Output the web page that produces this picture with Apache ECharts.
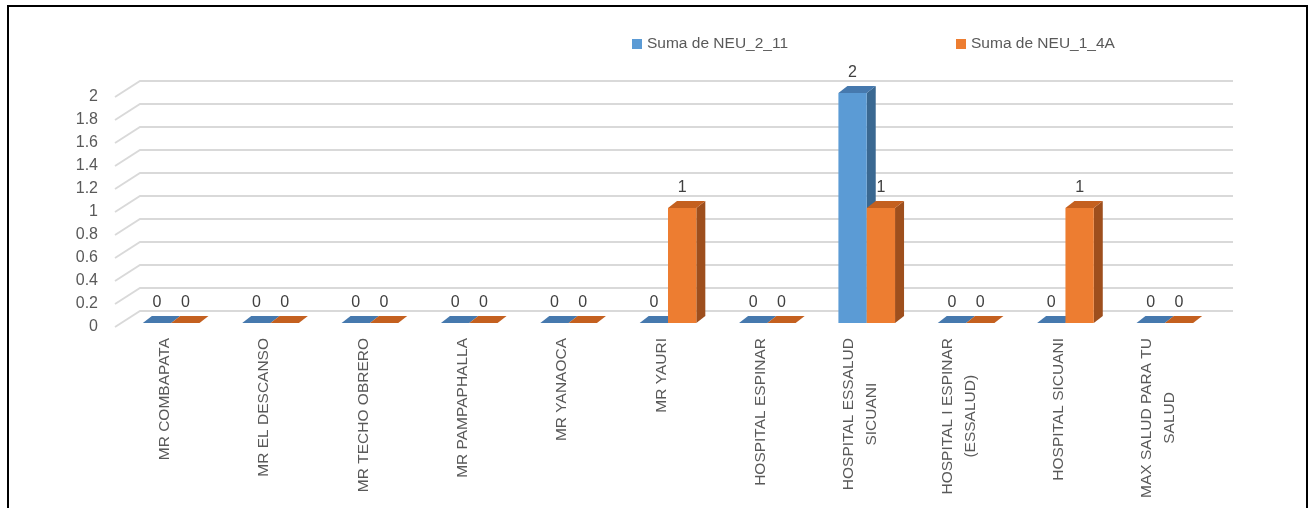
<!DOCTYPE html>
<html>
<head>
<meta charset="utf-8">
<script src="https://cdn.jsdelivr.net/npm/echarts@6/dist/echarts.min.js"></script>
<style>
  html, body { margin: 0; padding: 0; background: #fff; }
  #chart { width: 1314px; height: 508px; }
</style>
</head>
<body>
<div id="chart"></div>
<script>
  // categories and values
  const categories = [
    'MR COMBAPATA', 'MR EL DESCANSO', 'MR TECHO OBRERO', 'MR PAMPAPHALLA',
    'MR YANAOCA', 'MR YAURI', 'HOSPITAL ESPINAR', 'HOSPITAL ESSALUD\nSICUANI',
    'HOSPITAL I ESPINAR\n(ESSALUD)', 'HOSPITAL SICUANI', 'MAX SALUD PARA TU\nSALUD'
  ];
  const neu211 = [0, 0, 0, 0, 0, 0, 0, 2, 0, 0, 0];
  const neu14a = [0, 0, 0, 0, 0, 1, 0, 1, 0, 1, 0];
  const yTicks = [0, 0.2, 0.4, 0.6, 0.8, 1, 1.2, 1.4, 1.6, 1.8, 2];

  const textColor = '#595959';
  const font = 'Liberation Sans';

  // fake 3d: wall depth and bar depth
  const wallDx = 25, wallDy = -16;
  const barShiftX = 6.5, barShiftY = -4;
  const barDx = 9, barDy = -7;

  function makeBarRender(side, front, sideColor, topColor) {
    return function (params, api) {
      const i = api.value(0), v = api.value(1);
      const bw = api.size([1, 0])[0];
      const w = bw * 0.285;
      const base = api.coord([i, 0]);
      const top = api.coord([i, v]);
      const cx = base[0] + barShiftX;
      const x0 = side === 0 ? cx - w : cx;
      const x1 = x0 + w;
      const yb = base[1] + barShiftY;
      const yt = top[1] + barShiftY;
      const children = [];
      if (yb - yt > 0.5) {
        children.push({
          type: 'polygon',
          shape: { points: [[x1, yb], [x1 + barDx, yb + barDy], [x1 + barDx, yt + barDy], [x1, yt]] },
          style: { fill: sideColor }
        });
        children.push({
          type: 'rect',
          shape: { x: x0, y: yt, width: w, height: yb - yt },
          style: { fill: front }
        });
      }
      children.push({
        type: 'polygon',
        shape: { points: [[x0, yt], [x1, yt], [x1 + barDx, yt + barDy], [x0 + barDx, yt + barDy]] },
        style: { fill: topColor }
      });
      children.push({
        type: 'text',
        style: {
          text: String(v), x: (x0 + x1) / 2, y: yt - 20,
          align: 'center', verticalAlign: 'middle',
          fill: '#404040', font: '16px "' + font + '"'
        }
      });
      return { type: 'group', children: children };
    };
  }

  const chart = echarts.init(document.getElementById('chart'));
  chart.setOption({
    backgroundColor: '#fff',
    animation: false,
    graphic: [{
      type: 'rect',
      shape: { x: 8, y: 6, width: 1299, height: 530 },
      style: { fill: 'none', stroke: '#000', lineWidth: 2 },
      z: 100
    }],
    legend: {
      data: ['Suma de NEU_2_11', 'Suma de NEU_1_4A'],
      top: 31,
      left: 627,
      itemGap: 168,
      itemWidth: 10,
      itemHeight: 10,
      icon: 'rect',
      textStyle: { color: textColor, fontSize: 15.5, fontFamily: font }
    },
    grid: { left: 115, right: 106, top: 97, bottom: 181 },
    xAxis: {
      type: 'category',
      data: categories,
      axisLine: { show: false },
      axisTick: { show: false },
      splitLine: { show: false },
      axisLabel: {
        interval: 0,
        rotate: 90,
        margin: 11,
        color: textColor,
        fontSize: 15.5,
        fontFamily: font,
        lineHeight: 23,
        formatter: function (val) {
          return val.split('\n').map(function (s) { return '{a|' + s + '}'; }).join('\n');
        },
        rich: { a: { align: 'center', color: textColor, fontSize: 15.5, fontFamily: font, lineHeight: 23 } }
      }
    },
    yAxis: {
      type: 'value',
      min: 0,
      max: 2,
      interval: 0.2,
      axisLine: { show: false },
      axisTick: { show: false },
      splitLine: { show: false },
      axisLabel: { margin: 17, color: textColor, fontSize: 16, fontFamily: font }
    },
    series: [
      {
        name: 'walls',
        type: 'custom',
        silent: true,
        z: 1,
        data: yTicks.map(function (t) { return [0, t]; }),
        encode: { x: 0, y: 1 },
        renderItem: function (params, api) {
          const p = api.coord([0, api.value(1)]);
          const bw = api.size([1, 0])[0];
          const x0 = p[0] - bw / 2;
          const x1 = x0 + bw * categories.length;
          return {
            type: 'polyline',
            shape: { points: [[x0, p[1]], [x0 + wallDx, p[1] + wallDy], [x1 + wallDx, p[1] + wallDy]] },
            style: { stroke: '#d9d9d9', lineWidth: 1.8, fill: null }
          };
        }
      },
      {
        name: 'Suma de NEU_2_11',
        type: 'custom',
        z: 2,
        itemStyle: { color: '#5B9BD5' },
        data: neu211.map(function (v, i) { return [i, v]; }),
        encode: { x: 0, y: 1 },
        renderItem: makeBarRender(0, '#5B9BD5', '#3A6891', '#4679AE')
      },
      {
        name: 'Suma de NEU_1_4A',
        type: 'custom',
        z: 3,
        itemStyle: { color: '#ED7D31' },
        data: neu14a.map(function (v, i) { return [i, v]; }),
        encode: { x: 0, y: 1 },
        renderItem: makeBarRender(1, '#ED7D31', '#9E4F1D', '#C4601F')
      }
    ]
  });
</script>
</body>
</html>
